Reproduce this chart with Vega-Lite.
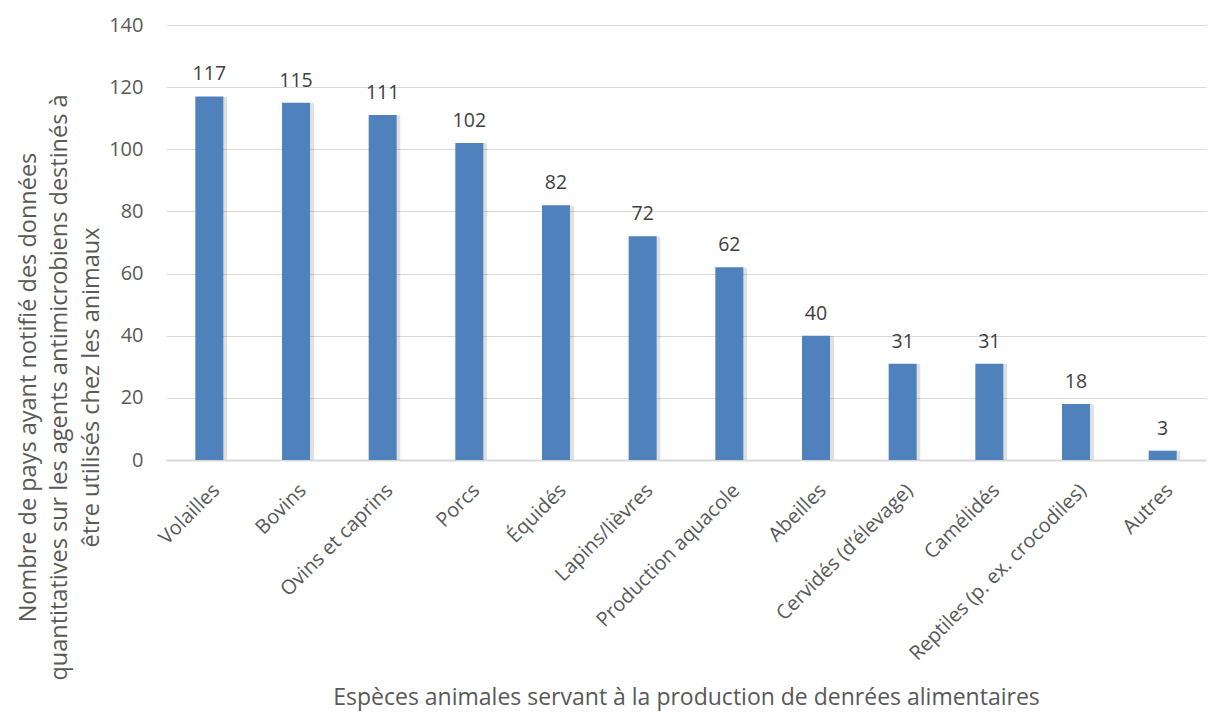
{
  "$schema": "https://vega.github.io/schema/vega-lite/v6.json",
  "width": 1040,
  "height": 435,
  "autosize": {"type": "none"},
  "padding": {"left": 166, "top": 25, "right": 4, "bottom": 253},
  "background": "white",
  "config": {
    "view": {"stroke": null},
    "font": "Open Sans",
    "axis": {"labelFont": "Open Sans", "titleFont": "Open Sans", "labelColor": "#595959", "titleColor": "#595959", "titleFontWeight": "normal"}
  },
  "data": {
    "values": [
      {"espece": "Volailles", "n": 117},
      {"espece": "Bovins", "n": 115},
      {"espece": "Ovins et caprins", "n": 111},
      {"espece": "Porcs", "n": 102},
      {"espece": "Équidés", "n": 82},
      {"espece": "Lapins/lièvres", "n": 72},
      {"espece": "Production aquacole", "n": 62},
      {"espece": "Abeilles", "n": 40},
      {"espece": "Cervidés (d’élevage)", "n": 31},
      {"espece": "Camélidés", "n": 31},
      {"espece": "Reptiles (p. ex. crocodiles)", "n": 18},
      {"espece": "Autres", "n": 3}
    ]
  },
  "encoding": {
    "x": {
      "field": "espece", "type": "nominal", "sort": null,
      "scale": {"paddingInner": 0.677, "paddingOuter": 0.3385},
      "axis": {
        "title": "Espèces animales servant à la production de denrées alimentaires",
        "titleFontSize": 23, "titleY": 237, "titleBaseline": "middle",
        "labelAngle": -45, "labelAlign": "right", "labelBaseline": "top",
        "labelFontSize": 20, "labelPadding": 20, "labelDx": 4, "ticks": false, "labelLimit": 400,
        "domainColor": "#d9d9d9", "domainWidth": 2, "labelOverlap": false
      }
    },
    "y": {
      "field": "n", "type": "quantitative",
      "scale": {"domain": [0, 140]},
      "axis": {
        "values": [0, 20, 40, 60, 80, 100, 120, 140],
        "title": ["Nombre de pays ayant notifié des données", "quantitatives sur les agents antimicrobiens destinés à", "être utilisés chez les  animaux"],
        "titleFontSize": 23.5, "titleLineHeight": 31.5,
        "titleX": -150, "titleY": 362, "titleAngle": -90, "titleAlign": "center", "titleBaseline": "top",
        "labelFontSize": 20, "labelPadding": 23, "ticks": false, "domain": false,
        "gridColor": "#d9d9d9", "gridWidth": 1
      }
    }
  },
  "layer": [
    {"mark": {"type": "bar", "color": "#000000", "opacity": 0.12, "xOffset": 4, "y2Offset": 2, "cornerRadius": 2}},
    {"mark": {"type": "bar", "color": "#4f81bd"}},
    {"mark": {"type": "text", "baseline": "bottom", "dy": -12, "fontSize": 19.5, "color": "#404040"}, "encoding": {"text": {"field": "n", "type": "quantitative"}}}
  ]
}
